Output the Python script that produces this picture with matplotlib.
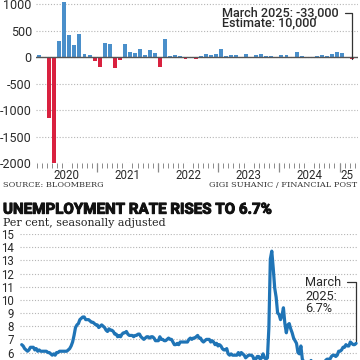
import numpy as np
import matplotlib.pyplot as plt
import matplotlib.patheffects as pe

plt.rcParams['font.family'] = ['Roboto', 'DejaVu Sans']
plt.rcParams['axes.unicode_minus'] = False

W = 360.0  # figure size in pixels

# monthly employment change, thousands (Jan 2020 - Mar 2025)
jobs_2020 = [30, 5, -1150, -2000, 310, 1030, 420, 220, 430, 65, 32, -68]
jobs_2021 = [-190, 266, 247, -202, -63, 254, 103, 70, 158, 32, 133, 76]
jobs_2022 = [-196, 348, 19, 44, 20, -44, -25, -38, 12, 63, 30, 63]
jobs_2023 = [146, 22, 35, 41, -17, 55, -6, 40, 62, 18, 25, 2]
jobs_2024 = [37, 41, -2, 92, 27, -1, -3, 22, 47, 15, 51, 88]
jobs_2025 = [76, 1, -33]
jobs = jobs_2020 + jobs_2021 + jobs_2022 + jobs_2023 + jobs_2024 + jobs_2025
year_labels = ['2020', '2021', '2022', '2023', '2024', '25']
jobs_ticks = [-2000, -1500, -1000, -500, 0, 500, 1000]

# unemployment rate, per cent, seasonally adjusted (Jan 2006 - Mar 2025)
rate_2006 = [6.6, 6.5, 6.3, 6.2, 6.1, 6.2, 6.4, 6.4, 6.4, 6.2, 6.3, 6.1]
rate_2007 = [6.2, 6.1, 6.1, 6.1, 6.1, 6.1, 6.0, 6.0, 5.9, 5.8, 5.9, 5.8]
rate_2008 = [6.0, 6.0, 6.1, 6.1, 6.1, 6.1, 6.1, 6.1, 6.2, 6.3, 6.5, 6.8]
rate_2009 = [7.3, 7.9, 8.1, 8.2, 8.5, 8.6, 8.7, 8.7, 8.5, 8.5, 8.5, 8.4]
rate_2010 = [8.3, 8.3, 8.2, 8.1, 8.1, 7.9, 8.0, 8.1, 8.0, 7.9, 7.7, 7.6]
rate_2011 = [7.8, 7.7, 7.7, 7.6, 7.4, 7.4, 7.2, 7.3, 7.2, 7.4, 7.5, 7.5]
rate_2012 = [7.6, 7.4, 7.3, 7.3, 7.3, 7.2, 7.3, 7.3, 7.4, 7.4, 7.2, 7.1]
rate_2013 = [7.0, 7.1, 7.2, 7.2, 7.1, 7.2, 7.2, 7.1, 6.9, 6.9, 6.9, 7.2]
rate_2014 = [7.0, 7.0, 6.9, 6.9, 7.0, 7.1, 7.0, 7.0, 6.8, 6.6, 6.6, 6.7]
rate_2015 = [6.6, 6.8, 6.8, 6.8, 6.8, 6.8, 6.8, 7.0, 7.1, 7.0, 7.1, 7.1]
rate_2016 = [7.2, 7.3, 7.1, 7.1, 6.9, 6.8, 6.9, 7.0, 7.0, 7.0, 6.8, 6.9]
rate_2017 = [6.8, 6.6, 6.7, 6.5, 6.6, 6.5, 6.3, 6.2, 6.2, 6.3, 5.9, 5.8]
rate_2018 = [5.9, 5.8, 5.8, 5.8, 5.8, 6.0, 5.8, 6.0, 5.9, 5.8, 5.6, 5.7]
rate_2019 = [5.8, 5.8, 5.8, 5.7, 5.4, 5.5, 5.7, 5.7, 5.5, 5.6, 5.9, 5.6]
rate_2020 = [5.5, 5.6, 7.9, 13.1, 13.7, 12.4, 10.9, 10.2, 9.0, 8.9, 8.5, 8.8]
rate_2021 = [9.4, 8.2, 7.5, 8.1, 8.2, 7.8, 7.5, 7.1, 6.9, 6.7, 6.0, 5.9]
rate_2022 = [6.5, 5.5, 5.3, 5.2, 5.1, 4.9, 4.9, 5.4, 5.2, 5.2, 5.1, 5.0]
rate_2023 = [5.0, 5.0, 5.0, 5.0, 5.2, 5.4, 5.5, 5.5, 5.5, 5.7, 5.8, 5.8]
rate_2024 = [5.7, 5.8, 6.1, 6.1, 6.2, 6.4, 6.4, 6.6, 6.5, 6.5, 6.8, 6.7]
rate_2025 = [6.6, 6.6, 6.7]
rate = (rate_2006 + rate_2007 + rate_2008 + rate_2009 + rate_2010 + rate_2011
        + rate_2012 + rate_2013 + rate_2014 + rate_2015 + rate_2016 + rate_2017
        + rate_2018 + rate_2019 + rate_2020 + rate_2021 + rate_2022 + rate_2023
        + rate_2024 + rate_2025)
rate_ticks = [6, 7, 8, 9, 10, 11, 12, 13, 14, 15]

blue = '#4a8fca'
red = '#d9213f'
line_blue = '#1f74b6'
grid_col = '#b5b5b5'
text_col = '#2a2a2a'

fig = plt.figure(figsize=(3.6, 3.6), dpi=100)

# ---------------- top: employment change bars ----------------
ax1 = fig.add_axes([36 / W, 1 - 163.3 / W, 321.7 / W, 163.3 / W])
xj = np.arange(len(jobs))
cols = [blue if v >= 0 else red for v in jobs]
ax1.bar(xj, jobs, width=0.78, color=cols, zorder=2)
ax1.axhline(0, color='#555555', lw=1.0, zorder=3)
ax1.set_xlim(-0.6, len(jobs) + 0.1)
ax1.set_ylim(-2000, 1075)
ax1.set_yticks(jobs_ticks)
ax1.set_yticklabels([str(t) for t in jobs_ticks])
ax1.yaxis.grid(True, linestyle=(0, (1, 1.6)), color=grid_col, lw=0.8, zorder=0)
for s in ax1.spines.values():
    s.set_visible(False)
ax1.tick_params(axis='y', length=0, pad=3, labelsize=9, labelcolor=text_col)

# year labels in the middle of each year, month ticks, long ticks at year ends
n_years = len(year_labels)
year_mid = [min(12 * i + 5.5, (12 * i + len(jobs) - 1) / 2) for i in range(n_years)]
ax1.set_xticks(year_mid)
ax1.set_xticklabels(year_labels)
ax1.set_xticks(np.arange(-0.5, len(jobs) + 0.5, 1), minor=True)
ax1.tick_params(axis='x', which='major', length=0, pad=4, labelsize=8.3,
                labelcolor=text_col)
ax1.tick_params(axis='x', which='minor', length=3.6, width=0.7, color='#8a8a8a')
sec = ax1.secondary_xaxis('bottom')
sec.set_xticks([12 * i - 0.5 for i in range(1, n_years)])
sec.tick_params(length=6.5, width=0.9, color='#8a8a8a', labelbottom=False)
sec.spines['bottom'].set_visible(False)

ax1.annotate('March 2025: -33,000\nEstimate: 10,000',
             xy=(len(jobs) - 1, jobs[-1]), xycoords='data',
             xytext=(221.7, W - 6.3), textcoords='figure pixels',
             ha='left', va='top', multialignment='left', linespacing=0.74,
             fontsize=9.1, fontweight='medium', color=text_col,
             arrowprops=dict(arrowstyle='-', color='#333333', lw=0.9,
                             connectionstyle='angle,angleA=0,angleB=90,rad=0',
                             shrinkA=3, shrinkB=0, relpos=(1, 0.72)))

fig.text(3 / W, 1 - 185.5 / W, 'SOURCE: BLOOMBERG', ha='left', va='center',
         family='DejaVu Serif', fontsize=5.9, color='#333333')
fig.text(357.5 / W, 1 - 185.5 / W, 'GIGI SUHANIC / FINANCIAL POST', ha='right',
         va='center', family='DejaVu Serif', fontsize=5.9, color='#333333')

# ---------------- bottom: unemployment rate line ----------------
fig.text(3 / W, 1 - 209.7 / W, 'UNEMPLOYMENT RATE RISES TO 6.7%', ha='left',
         va='center', fontsize=10.9, fontweight='bold', color='#111111',
         path_effects=[pe.withStroke(linewidth=0.7, foreground='#111111')])
fig.text(3 / W, 1 - 226 / W, 'Per cent, seasonally adjusted', ha='left',
         va='baseline', family='DejaVu Serif', fontsize=7.9, color='#222222')

ax2 = fig.add_axes([20.25 / W, (W - 378.9) / W, 338.05 / W, 144.9 / W])
xr = np.arange(len(rate))
ax2.plot(xr, rate, color=line_blue, lw=2.3, solid_joinstyle='round',
         solid_capstyle='round', zorder=3)
ax2.set_xlim(-1, len(rate) + 0.5)
ax2.set_ylim(4, 15)
ax2.set_yticks(rate_ticks)
ax2.set_yticklabels([str(t) for t in rate_ticks])
ax2.yaxis.grid(True, linestyle=(0, (1, 1.6)), color=grid_col, lw=0.8, zorder=0)
for s in ax2.spines.values():
    s.set_visible(False)
ax2.set_xticks([])
ax2.tick_params(axis='y', length=0, pad=4.5, labelsize=8.3, labelcolor=text_col)

ax2.annotate('March', xy=(len(rate) - 1, rate[-1]), xycoords='data',
             xytext=(305, W - 282), textcoords='figure pixels',
             ha='left', va='center', fontsize=9.2, color=text_col,
             arrowprops=dict(arrowstyle='-', color='#333333', lw=0.9,
                             connectionstyle='angle,angleA=0,angleB=90,rad=0',
                             shrinkA=2, shrinkB=2, relpos=(1, 0.5)))
fig.text(305 / W, 1 - 300 / W, '2025:', ha='left', va='baseline',
         fontsize=9.2, color=text_col)
fig.text(305 / W, 1 - 312 / W, '6.7%', ha='left', va='baseline',
         fontsize=9.2, color=text_col)

fig.savefig('out.png', dpi=100)
